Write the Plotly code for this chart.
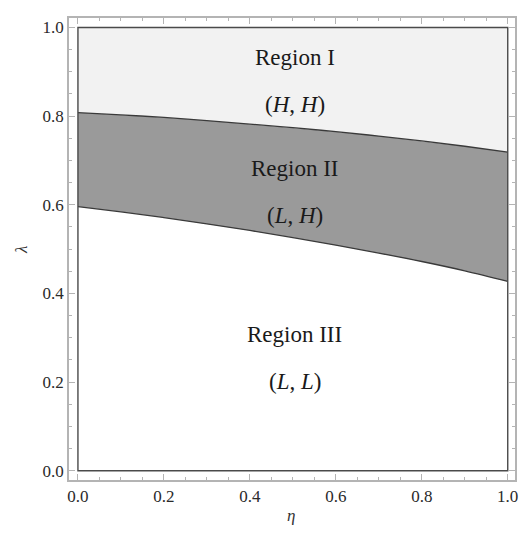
import plotly.graph_objects as go

# Boundary curves lambda(eta) separating the three equilibrium regions
eta = [0.0, 0.1, 0.2, 0.3, 0.4, 0.5, 0.6, 0.7, 0.8, 0.9, 1.0]
upper = [0.808, 0.803, 0.797, 0.790, 0.782, 0.774, 0.765, 0.755, 0.744, 0.732, 0.719]
lower = [0.596, 0.584, 0.571, 0.557, 0.542, 0.526, 0.509, 0.491, 0.472, 0.451, 0.427]

region_names = ["Region I", "Region II", "Region III"]
region_pairs = ["(<i>H</i>, <i>H</i>)", "(<i>L</i>, <i>H</i>)", "(<i>L</i>, <i>L</i>)"]
name_y = [0.933, 0.681, 0.308]
pair_y = [0.827, 0.575, 0.202]
label_x = 0.505

tick_vals = [0.0, 0.2, 0.4, 0.6, 0.8, 1.0]
tick_text = ["0.0", "0.2", "0.4", "0.6", "0.8", "1.0"]

SERIF = "Liberation Serif"
frame_col = "#b4b4b4"
edge_col = "#3a3a3a"

fig = go.Figure()

# Region III (below lower curve)
fig.add_trace(go.Scatter(
    x=eta + eta[::-1], y=lower + [0.0] * len(eta),
    fill="toself", fillcolor="#ffffff", line=dict(width=0),
    mode="lines", hoverinfo="skip", showlegend=False))

# Region II (between the curves)
fig.add_trace(go.Scatter(
    x=eta + eta[::-1], y=upper + lower[::-1],
    fill="toself", fillcolor="#9a9a9a", line=dict(width=0),
    mode="lines", hoverinfo="skip", showlegend=False))

# Region I (above upper curve)
fig.add_trace(go.Scatter(
    x=eta + eta[::-1], y=upper + [1.0] * len(eta),
    fill="toself", fillcolor="#f2f2f2", line=dict(width=0),
    mode="lines", hoverinfo="skip", showlegend=False))

# Boundary curves
for curve in (upper, lower):
    fig.add_trace(go.Scatter(
        x=eta, y=curve, mode="lines",
        line=dict(color=edge_col, width=1.3, shape="spline", smoothing=1.0),
        hoverinfo="skip", showlegend=False))

# Outline of the unit square
fig.add_shape(type="rect", x0=0, y0=0, x1=1, y1=1, xref="x", yref="y",
              line=dict(color="#4a4a4a", width=1.4), fillcolor="rgba(0,0,0,0)",
              layer="above")

annotations = []
for name, pair, ny, py in zip(region_names, region_pairs, name_y, pair_y):
    annotations.append(dict(x=label_x, y=ny, xref="x", yref="y", text=name,
                            showarrow=False, xanchor="center", yanchor="middle",
                            font=dict(family=SERIF, size=23, color="#1a1a1a")))
    annotations.append(dict(x=label_x, y=py, xref="x", yref="y", text=pair,
                            showarrow=False, xanchor="center", yanchor="middle",
                            font=dict(family=SERIF, size=23, color="#1a1a1a")))

# Axis labels
annotations.append(dict(x=-0.105, y=0.498, xref="paper", yref="paper", text="<i>λ</i>",
                        textangle=-90, showarrow=False, xanchor="center", yanchor="middle",
                        font=dict(family=SERIF, size=17, color="#333333")))
annotations.append(dict(x=0.497, y=-0.076, xref="paper", yref="paper", text="<i>η</i>",
                        showarrow=False, xanchor="center", yanchor="middle",
                        font=dict(family=SERIF, size=17, color="#333333")))

axis_common = dict(
    tickmode="array", tickvals=tick_vals, ticktext=tick_text,
    ticks="inside", ticklen=6, tickwidth=1, tickcolor=frame_col,
    minor=dict(ticks="inside", ticklen=3.5, tickwidth=1, tickcolor=frame_col, dtick=0.05),
    showline=True, linecolor=frame_col, linewidth=1.6, mirror="ticks",
    showgrid=False, zeroline=False,
    tickfont=dict(family=SERIF, size=17, color="#2a2a2a"),
)

fig.update_layout(
    width=522, height=536,
    margin=dict(l=69, r=4, t=18, b=56),
    paper_bgcolor="white", plot_bgcolor="white",
    font=dict(family=SERIF, size=17, color="#333333"),
    xaxis=dict(range=[-0.0208, 1.0169], **axis_common),
    yaxis=dict(range=[-0.021, 1.0214], **axis_common),
    annotations=annotations,
)

fig.write_html("out.html")
